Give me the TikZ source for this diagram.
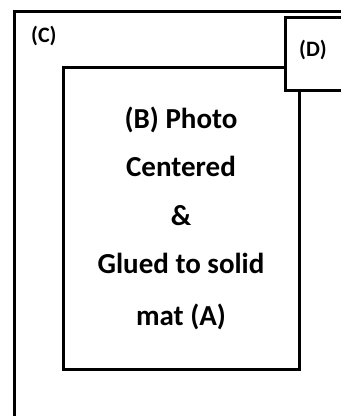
\documentclass[tikz,border=0pt]{standalone}
\usepackage{fontspec}
\setmainfont{Carlito}
\begin{document}
\begin{tikzpicture}[x=1bp,y=-1bp,
  frame/.style={draw=black,line width=3bp,fill=white},
  bigtxt/.style={font=\fontsize{29bp}{34bp}\selectfont\bfseries,anchor=base,inner sep=0pt},
  lbltxt/.style={font=\fontsize{22bp}{26bp}\selectfont\bfseries,anchor=base west,inner sep=0pt}]
\useasboundingbox (0,0) rectangle (341,416);
\clip (0,0) rectangle (341,416);
\fill[white] (0,0) rectangle (341,416);
% outer frame (C)
\draw[frame] (14.5,11) rectangle (360,440);
% inner photo (B)
\draw[frame] (63.5,67) rectangle (299.5,369.5);
% box (D)
\draw[frame] (285.5,17) rectangle (360,90);
\node[lbltxt] (c) at (31,42) {(C)};
\node[lbltxt] (d) at (299,56) {(D)};
\node[bigtxt] (l1) at (181,128) {(B) Photo};
\node[bigtxt] (l2) at (181,176) {Centered};
\node[bigtxt] (l3) at (181,225) {\&};
\node[bigtxt] (l4) at (181,273) {Glued to solid};
\node[bigtxt] (l5) at (181,325) {mat (A)};
\end{tikzpicture}
\end{document}
